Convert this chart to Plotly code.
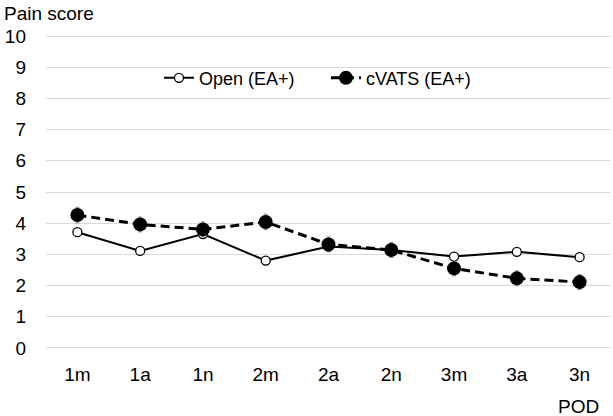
import plotly.graph_objects as go

categories = ["1m", "1a", "1n", "2m", "2a", "2n", "3m", "3a", "3n"]
open_vals = [3.71, 3.11, 3.65, 2.80, 3.25, 3.14, 2.93, 3.08, 2.91]
cvats_vals = [4.26, 3.96, 3.80, 4.04, 3.32, 3.14, 2.55, 2.23, 2.11]
cvats_err = [0.25, 0.24, 0.24, 0.25, 0.24, 0.24, 0.24, 0.24, 0.24]
y_ticks = list(range(0, 11))

FONT = "Liberation Sans, Arial, Helvetica, sans-serif"
FS = 19

W, H = 613, 416
L, R, T, B = 46, 2, 33, 65

fig = go.Figure()
fig.add_trace(go.Scatter(
    x=categories, y=open_vals, name="Open (EA+)", mode="lines+markers",
    line=dict(color="black", width=2),
    marker=dict(symbol="circle", size=9, color="white", line=dict(color="black", width=1.3)),
))
fig.add_trace(go.Scatter(
    x=categories, y=cvats_vals, name="cVATS (EA+)", mode="lines+markers",
    line=dict(color="black", width=3, dash="9px,5px"),
    marker=dict(symbol="circle", size=14, color="black"),
    error_y=dict(type="data", array=cvats_err, color="#8c8c8c", thickness=1, width=2),
))

plot_h = H - T - B
plot_w = W - L - R

fig.update_layout(
    width=W, height=H,
    margin=dict(l=L, r=R, t=T, b=B),
    paper_bgcolor="white", plot_bgcolor="white",
    font=dict(family=FONT, size=FS, color="black"),
    showlegend=True,
    legend=dict(orientation="h", x=0.4955, xanchor="center", y=0.858, yanchor="middle",
                font=dict(size=18), bgcolor="rgba(0,0,0,0)", traceorder="normal",
                entrywidth=122, entrywidthmode="pixels"),
    xaxis=dict(type="category", range=[-0.5, 8.5], showgrid=False, zeroline=False,
               showline=False, ticks="", ticklabelstandoff=10, tickfont=dict(size=FS)),
    yaxis=dict(range=[-0.1, 10.1], tickvals=y_ticks, showgrid=True, gridcolor="#d9d9d9",
               gridwidth=1, zeroline=False, showline=False, ticks="",
               ticklabelstandoff=19, tickfont=dict(size=FS)),
    annotations=[
        dict(text="Pain score", x=(2 - L) / plot_w, y=1 + (T - 13) / plot_h,
             xref="paper", yref="paper", showarrow=False,
             xanchor="left", yanchor="middle", font=dict(size=FS)),
        dict(text="POD", x=(601 - L) / plot_w, y=-(406 - (T + plot_h)) / plot_h,
             xref="paper", yref="paper", showarrow=False,
             xanchor="right", yanchor="middle", font=dict(size=FS)),
    ],
)

# remove the browser's default 8px body margin so the figure fills the window
fig.write_html("out.html", config={"displayModeBar": False},
               post_script="document.body.style.margin='0';")
